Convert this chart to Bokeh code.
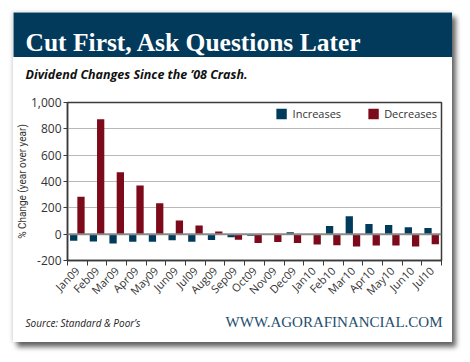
import math
import numpy as np
from bokeh.plotting import figure
from bokeh.layouts import column
from bokeh.models import (Range1d, FixedTicker, NumeralTickFormatter, Label,
                          Span, Legend, LegendItem)
from bokeh.embed import file_html
from bokeh.resources import INLINE

months = ["Jan09", "Feb09", "Mar09", "Apr09", "May09", "Jun09", "Jul09", "Aug09",
          "Sep09", "Oct09", "Nov09", "Dec09", "Jan10", "Feb10", "Mar10", "Apr10",
          "May10", "Jun10", "Jul10"]
increases = [-50, -55, -70, -57, -58, -47, -57, -45, -23, -12, 0, 14, 0,
             62, 137, 78, 69, 52, 47]
decreases = [284, 872, 470, 370, 235, 104, 66, 21, -42, -68, -59, -68, -78,
             -85, -94, -87, -87, -94, -76]
y_ticks = [-200, 0, 200, 400, 600, 800, 1000]
grid_ticks = [200, 400, 600, 800]

BLUE = "#003b5c"
RED = "#7d0a1b"
HEADER = "#023a5c"
SANS = "Open Sans"
SERIF = "Liberation Serif"
W = 439


def strip(height, bg="white"):
    f = figure(width=W, height=height, output_backend="svg", toolbar_location=None,
               x_range=Range1d(0, 1), y_range=Range1d(0, 1), x_axis_type=None,
               y_axis_type=None, min_border=0, background_fill_color=bg,
               border_fill_color=bg, outline_line_color=None, frame_align=False)
    f.grid.visible = False
    return f


def slabel(f, x, y, text, **kw):
    f.add_layout(Label(x=x, y=y, x_units="screen", y_units="screen", text=text, **kw))


# header band (title shadow done with CSS so the text is not duplicated)
hf = strip(45, HEADER)
hf.stylesheets = [
    "svg text { text-shadow: 2px 2px 1px rgba(0,0,0,0.85); "
    "filter: drop-shadow(2px 2px 0.5px rgba(0,0,0,0.85)); }"
]
title = "Cut First, Ask Questions Later"
slabel(hf, 12, 15, title, text_font=SERIF, text_font_size="25.5px", text_font_style="bold",
       text_color="white", text_baseline="alphabetic")

# subtitle strip
sf = strip(30)
slabel(sf, 12, 13, "Dividend Changes Since the \u201908 Crash.", text_font=SANS,
       text_font_size="12.5px", text_font_style="bold italic", text_color="#111111",
       text_baseline="middle")

# main chart
p = figure(width=W, height=219, output_backend="svg", toolbar_location=None,
           x_range=Range1d(0, len(months)), y_range=Range1d(-200, 1000),
           min_border_left=49, min_border_right=11, min_border_top=15,
           min_border_bottom=36, background_fill_color="white",
           border_fill_color="white", frame_align=False)
p.outline_line_color = "#3a3a3a"
p.outline_line_width = 1.5

centers = np.arange(len(months)) + 0.5
r_inc = p.vbar(x=centers - 0.185, top=increases, bottom=0, width=0.37,
               fill_color=BLUE, line_color=None)
r_dec = p.vbar(x=centers + 0.185, top=decreases, bottom=0, width=0.37,
               fill_color=RED, line_color=None)

p.add_layout(Span(location=0, dimension="width", line_color="#8a8a8a", line_width=2))

p.xgrid.visible = False
p.ygrid.ticker = FixedTicker(ticks=grid_ticks)
p.ygrid.grid_line_color = "#b8b8b8"
p.ygrid.grid_line_width = 1

xa = p.xaxis[0]
xa.ticker = FixedTicker(ticks=list(centers), minor_ticks=list(range(len(months) + 1)))
xa.major_label_overrides = {float(c): m for c, m in zip(centers, months)}
xa.major_label_orientation = math.pi / 4
xa.major_tick_out = 0
xa.major_tick_in = 0
xa.minor_tick_out = 5
xa.minor_tick_in = 0
xa.minor_tick_line_color = "#3a3a3a"
xa.axis_line_color = "#3a3a3a"
xa.axis_line_width = 1.5
xa.major_label_text_font = SANS
xa.major_label_text_font_size = "11px"
xa.major_label_text_color = "#333333"
xa.major_label_standoff = 3

ya = p.yaxis[0]
ya.ticker = FixedTicker(ticks=y_ticks)
ya.formatter = NumeralTickFormatter(format="0,0")
ya.major_tick_out = 4
ya.major_tick_in = 0
ya.minor_tick_line_color = None
ya.axis_line_color = "#3a3a3a"
ya.axis_line_width = 1.5
ya.major_tick_line_color = "#3a3a3a"
ya.major_label_text_font = SANS
ya.major_label_text_font_size = "12px"
ya.major_label_text_color = "#333333"
ya.major_label_standoff = 2
ya.axis_label = "% Change (year over year)"
ya.axis_label_text_font = "Roboto"
ya.axis_label_text_font_size = "10px"
ya.axis_label_text_font_style = "normal"
ya.axis_label_text_color = "#333333"
ya.axis_label_standoff = 0

legend = Legend(items=[LegendItem(label="Increases", renderers=[r_inc]),
                       LegendItem(label="Decreases", renderers=[r_dec])],
                orientation="horizontal", location="top_right",
                border_line_color=None, background_fill_alpha=0,
                glyph_width=13, glyph_height=13, label_standoff=5, spacing=25,
                padding=4, margin=4, label_text_font=SANS,
                label_text_font_size="11px", label_text_color="#333333")
p.add_layout(legend)

# footer strip
ff = strip(36)
slabel(ff, 12, 20, "Source: Standard & Poor\u2019s", text_font=SANS, text_font_size="10px",
       text_font_style="italic", text_color="#222222", text_baseline="middle")
slabel(ff, 429, 21, "WWW.AGORAFINANCIAL.COM", text_font=SERIF, text_font_size="15px",
       text_color="#1d4e6e", text_align="right", text_baseline="middle")

card = column(hf, sf, p, ff, margin=(12, 0, 0, 13), spacing=0,
              styles={"box-shadow": "4px 5px 5px rgba(0,0,0,0.6), -1px 0px 4px rgba(0,0,0,0.15)"})

open("out.html", "w").write(file_html(card, INLINE))
